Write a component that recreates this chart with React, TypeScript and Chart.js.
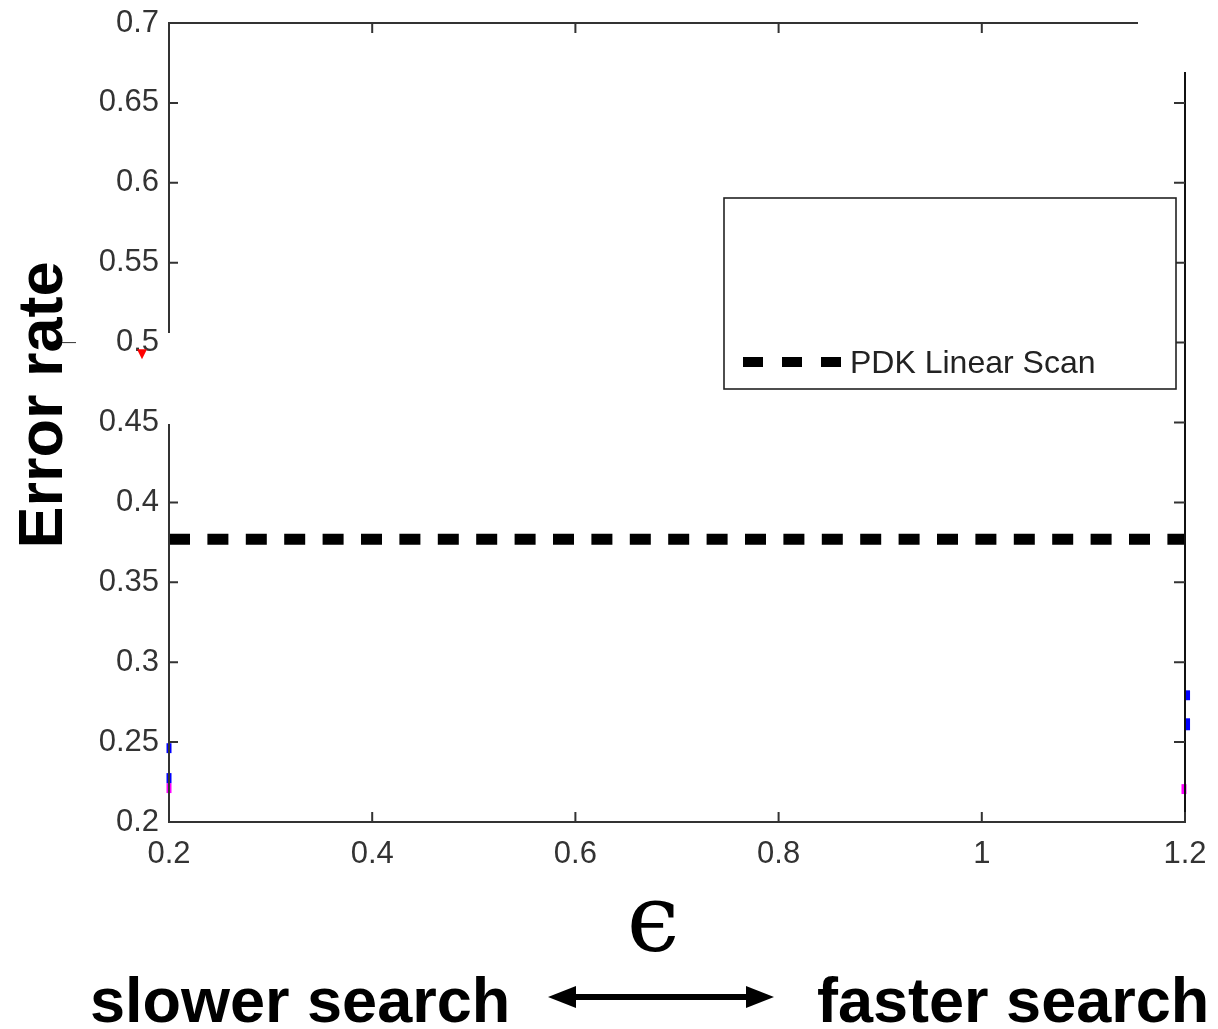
import { useEffect, useRef } from "react";
import { Chart, registerables } from "chart.js";

Chart.register(...registerables);

// ---- data ----
const xMin = 0.2;
const xMax = 1.2;
const xStep = 0.2;
const yMin = 0.2;
const yMax = 0.7;
const yStep = 0.05;

const pdkLabel = "PDK Linear Scan";
const pdkX = [0.2, 1.2];
const pdkY = [0.377, 0.377];

// remnants of other series visible at the plot edges
const blueLeftA = [0.2431, 0.2493];
const blueLeftB = [0.2243, 0.2306];
const magentaLeft = [0.2181, 0.2243];
const blueRightA = [0.2762, 0.2824];
const blueRightB = [0.2574, 0.2649];
const magentaRight = [0.2175, 0.2237];
const redMarkerX = [0.1734];
const redMarkerY = [0.4934];

const xTitle = "\u03F5";
const yTitle = "Error rate";
const leftNote = "slower search";
const rightNote = "faster search";

const fmt = (v: number) => String(Number(v.toFixed(2)));

function seg(x: number, ys: number[]) {
  return ys.map((y) => ({ x, y }));
}

const framePlugin = {
  id: "frame",
  afterDatasetsDraw(chart: any) {
    const { ctx, chartArea, scales } = chart;
    const { left, right, top, bottom } = chartArea;
    const xs = scales.x;
    const ys = scales.y;
    ctx.save();
    ctx.strokeStyle = "#333";
    ctx.lineWidth = 2;
    ctx.lineCap = "butt";
    // left axis (with gap)
    const gapTop = 333;
    const gapBottom = 424;
    ctx.beginPath();
    ctx.moveTo(left, top);
    ctx.lineTo(left, gapTop);
    ctx.moveTo(left, gapBottom);
    ctx.lineTo(left, bottom);
    // bottom axis
    ctx.moveTo(left - 1, bottom);
    ctx.lineTo(right + 1, bottom);
    // top axis (partial)
    const topEnd = 1138;
    ctx.moveTo(left - 1, top);
    ctx.lineTo(topEnd, top);
    ctx.stroke();
    // right axis (partial)
    const rightStart = 72;
    ctx.strokeStyle = "#111";
    ctx.beginPath();
    ctx.moveTo(right, rightStart);
    ctx.lineTo(right, bottom);
    ctx.stroke();

    // tick marks (inward)
    ctx.strokeStyle = "#333";
    ctx.beginPath();
    ys.ticks.forEach((t: any) => {
      const p = ys.getPixelForValue(t.value);
      if (!(p > gapTop && p < gapBottom)) {
        ctx.moveTo(left, p);
        ctx.lineTo(left + 9, p);
      }
      if (p > rightStart) {
        ctx.moveTo(right, p);
        ctx.lineTo(right - 11, p);
      }
    });
    xs.ticks.forEach((t: any) => {
      const p = xs.getPixelForValue(t.value);
      ctx.moveTo(p, bottom);
      ctx.lineTo(p, bottom - 10);
      if (p < topEnd) {
        ctx.moveTo(p, top);
        ctx.lineTo(p, top + 10);
      }
    });
    ctx.stroke();
    // stray tick near 0.5
    const p5 = ys.getPixelForValue(0.5);
    ctx.lineWidth = 1;
    ctx.beginPath();
    ctx.moveTo(60, p5);
    ctx.lineTo(76, p5);
    ctx.stroke();

    // red marker outside the plot area (from data via scales)
    ctx.fillStyle = "#ff0000";
    redMarkerX.forEach((xv, i) => {
      const px = xs.getPixelForValue(xv);
      const py = ys.getPixelForValue(redMarkerY[i]);
      ctx.beginPath();
      ctx.moveTo(px - 5, py - 4);
      ctx.lineTo(px + 5, py - 4);
      ctx.lineTo(px, py + 6);
      ctx.closePath();
      ctx.fill();
    });

    // legend box
    const ds = chart.data.datasets[0];
    const bx = 724, by = 198, bw = 452, bh = 191;
    ctx.fillStyle = "#fff";
    ctx.fillRect(bx, by, bw, bh);
    ctx.strokeStyle = "#222";
    ctx.lineWidth = 1.6;
    ctx.strokeRect(bx, by, bw, bh);
    ctx.strokeStyle = ds.borderColor;
    ctx.lineWidth = 10;
    ctx.setLineDash([20, 19]);
    ctx.beginPath();
    ctx.moveTo(743, 362);
    ctx.lineTo(841, 362);
    ctx.stroke();
    ctx.setLineDash([]);
    ctx.fillStyle = "#222";
    ctx.font = "32px 'Liberation Sans', Arial, sans-serif";
    ctx.textAlign = "left";
    ctx.textBaseline = "alphabetic";
    ctx.fillText(ds.label, 850, 373);
    ctx.restore();
  },
  afterDraw(chart: any) {
    const { ctx } = chart;
    ctx.save();
    ctx.fillStyle = "#000";
    // y title
    ctx.save();
    ctx.translate(62, 405);
    ctx.rotate(-Math.PI / 2);
    ctx.font = "bold 63px 'Liberation Sans', Arial, sans-serif";
    ctx.textAlign = "center";
    ctx.textBaseline = "alphabetic";
    ctx.fillText(yTitle, 0, 0);
    ctx.restore();
    // x title
    ctx.font = "94px 'DejaVu Serif', serif";
    ctx.textAlign = "center";
    ctx.textBaseline = "alphabetic";
    ctx.fillText(xTitle, 653, 951);
    // notes
    ctx.font = "bold 63px 'Liberation Sans', Arial, sans-serif";
    ctx.textAlign = "left";
    ctx.fillText(leftNote, 90, 1022);
    ctx.fillText(rightNote, 817, 1022);
    // double arrow
    const ay = 997;
    ctx.strokeStyle = "#000";
    ctx.lineWidth = 6;
    ctx.beginPath();
    ctx.moveTo(570, ay);
    ctx.lineTo(752, ay);
    ctx.stroke();
    ctx.beginPath();
    ctx.moveTo(548, ay);
    ctx.lineTo(576, ay - 11);
    ctx.lineTo(576, ay + 11);
    ctx.closePath();
    ctx.fill();
    ctx.beginPath();
    ctx.moveTo(774, ay);
    ctx.lineTo(746, ay - 11);
    ctx.lineTo(746, ay + 11);
    ctx.closePath();
    ctx.fill();
    ctx.restore();
  },
};

const zeroPad = (s: any) => {
  s.paddingLeft = 0;
  s.paddingRight = 0;
  s.paddingTop = 0;
  s.paddingBottom = 0;
};

export default function App() {
  const ref = useRef<HTMLCanvasElement | null>(null);

  useEffect(() => {
    document.body.style.margin = "0";
    const canvas = ref.current;
    if (!canvas) return;
    const edge = (color: string, x: number, ys: number[]) => ({
      type: "line" as const,
      label: "",
      data: seg(x, ys),
      borderColor: color,
      backgroundColor: color,
      borderWidth: 5,
      pointRadius: 0,
      clip: false as any,
    });
    const chart = new Chart(canvas, {
      type: "line",
      data: {
        datasets: [
          {
            label: pdkLabel,
            data: pdkX.map((x, i) => ({ x, y: pdkY[i] })),
            borderColor: "#000",
            backgroundColor: "#000",
            borderWidth: 11,
            borderDash: [21, 17.4],
            borderCapStyle: "butt",
            pointRadius: 0,
          },
          edge("#0000ff", xMin, blueLeftA),
          edge("#0000ff", xMin, blueLeftB),
          edge("#ff00ff", xMin, magentaLeft),
          edge("#0000ff", xMax + 0.0025, blueRightA),
          edge("#0000ff", xMax + 0.0025, blueRightB),
          edge("#ff00ff", xMax - 0.001, magentaRight),
        ],
      },
      options: {
        animation: false,
        responsive: false,
        devicePixelRatio: 1,
        events: [],
        layout: { padding: { left: 0, top: 23, right: 33, bottom: 0 } },
        plugins: {
          legend: { display: false },
          tooltip: { enabled: false },
          title: { display: false },
        },
        scales: {
          x: {
            type: "linear",
            min: xMin,
            max: xMax,
            border: { display: false },
            grid: { display: false, drawTicks: false },
            ticks: {
              stepSize: xStep,
              padding: 14,
              color: "#333",
              font: { family: "'Liberation Sans', Arial, sans-serif", size: 31 },
              callback: (v: any) => fmt(Number(v)),
              maxRotation: 0,
            },
            afterFit: (s: any) => {
              s.height = 207;
              zeroPad(s);
            },
          },
          y: {
            type: "linear",
            min: yMin,
            max: yMax,
            border: { display: false },
            grid: { display: false, drawTicks: false },
            ticks: {
              stepSize: yStep,
              padding: 10,
              color: "#333",
              font: { family: "'Liberation Sans', Arial, sans-serif", size: 31 },
              callback: (v: any) => fmt(Number(v)),
            },
            afterFit: (s: any) => {
              s.width = 169;
              zeroPad(s);
            },
          },
        },
      } as any,
      plugins: [framePlugin],
    });
    return () => chart.destroy();
  }, []);

  return (
    <canvas
      ref={ref}
      width={1218}
      height={1029}
      style={{ display: "block", width: 1218, height: 1029 }}
    />
  );
}
